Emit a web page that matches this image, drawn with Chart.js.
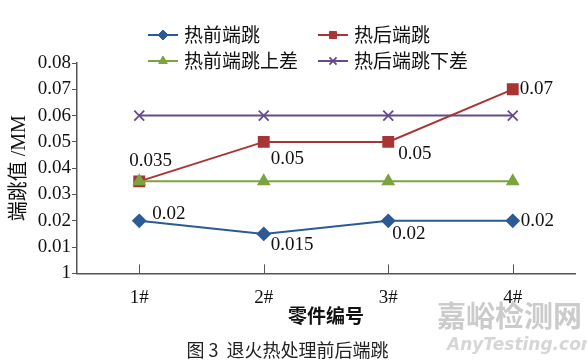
<!DOCTYPE html>
<html>
<head>
<meta charset="utf-8">
<script src="https://cdn.jsdelivr.net/npm/chart.js@4/dist/chart.umd.min.js"></script>
<style>
  html, body { margin: 0; padding: 0; background: #fff; }
  #wrap { width: 587px; height: 361px; }
</style>
</head>
<body>
<div id="wrap"><canvas id="chart"></canvas></div>
<script>
// 数据
const parts = ['1#', '2#', '3#', '4#'];
const hotBefore = [0.02, 0.015, 0.02, 0.02];
const hotAfter = [0.035, 0.05, 0.05, 0.07];
const beforeUpper = [0.035, 0.035, 0.035, 0.035];
const afterLower = [0.06, 0.06, 0.06, 0.06];
const beforeText = ['0.02', '0.015', '0.02', '0.02'];
const afterText = ['0.035', '0.05', '0.05', '0.07'];
const yTickLabels = ['1', '0.01', '0.02', '0.03', '0.04', '0.05', '0.06', '0.07', '0.08'];

const serif = "'Liberation Serif', 'Noto Sans CJK SC', serif";
const cjk = "'Noto Sans CJK SC', 'Liberation Serif', sans-serif";
const axisColor = '#555';

// 图例 (2x2)
const gridLegend = {
  id: 'gridLegend',
  afterDraw(chart) {
    const ctx = chart.ctx;
    const cells = [[148, 35], [318, 35], [148, 61], [318, 61]];
    ctx.save();
    chart.data.datasets.forEach((ds, i) => {
      const [x, y] = cells[i];
      ctx.strokeStyle = ds.borderColor;
      ctx.fillStyle = ds.backgroundColor;
      ctx.lineWidth = 2;
      ctx.beginPath();
      ctx.moveTo(x, y);
      ctx.lineTo(x + 30, y);
      ctx.stroke();
      if (Chart.helpers && Chart.helpers.drawPoint) {
        ctx.lineWidth = ds.pointBorderWidth || 1;
        Chart.helpers.drawPoint(ctx, {pointStyle: ds.pointStyle, radius: 5, rotation: 0, borderWidth: ds.pointBorderWidth || 1}, x + 15, y);
      }
      ctx.fillStyle = '#111';
      ctx.font = '19px ' + cjk;
      ctx.textAlign = 'left';
      ctx.textBaseline = 'middle';
      ctx.fillText(ds.label, x + 36, y);
    });
    ctx.restore();
  }
};

// 数值标签
const valueLabels = {
  id: 'valueLabels',
  afterDatasetsDraw(chart) {
    const ctx = chart.ctx;
    const sets = [
      {ds: 0, text: beforeText, off: [[13, -7], [7, 11], [4, 13], [8, 0]]},
      {ds: 1, text: afterText, off: [[-10, -20], [7, 17], [10, 12], [7, 0]]}
    ];
    ctx.save();
    ctx.fillStyle = '#111';
    ctx.font = '19px ' + serif;
    ctx.textAlign = 'left';
    ctx.textBaseline = 'middle';
    sets.forEach(s => {
      const meta = chart.getDatasetMeta(s.ds);
      meta.data.forEach((pt, i) => {
        ctx.fillText(s.text[i], pt.x + s.off[i][0], pt.y + s.off[i][1]);
      });
    });
    ctx.restore();
  }
};

// x轴内侧刻度 + 水印
const extras = {
  id: 'extras',
  afterDraw(chart) {
    const ctx = chart.ctx;
    const xs = chart.scales.x;
    const bottom = chart.chartArea.bottom;
    ctx.save();
    ctx.strokeStyle = axisColor;
    ctx.lineWidth = 1;
    parts.forEach((p, i) => {
      const x = Math.round(xs.getPixelForValue(i)) + 0.5;
      ctx.beginPath();
      ctx.moveTo(x, bottom);
      ctx.lineTo(x, bottom - 9);
      ctx.stroke();
    });
    ctx.fillStyle = '#cbcbcb';
    ctx.font = 'bold 29px ' + cjk;
    ctx.textAlign = 'left';
    ctx.textBaseline = 'middle';
    ctx.fillText('嘉峪检测网', 437, 316);
    ctx.fillStyle = '#d6d6d6';
    ctx.font = 'italic bold 17px ' + "'DejaVu Sans', sans-serif";
    ctx.fillText('AnyTesting.com', 447, 346);
    ctx.restore();
  }
};

new Chart(document.getElementById('chart'), {
  type: 'line',
  data: {
    labels: parts,
    datasets: [
      {
        label: '热前端跳', data: hotBefore, order: 1,
        borderColor: '#2b5a97', backgroundColor: '#2b5a97',
        pointStyle: 'rectRot', pointRadius: 6, borderWidth: 2
      },
      {
        label: '热后端跳', data: hotAfter, order: 1,
        borderColor: '#a83535', backgroundColor: '#a83535',
        pointStyle: 'rect', pointRadius: 7, borderWidth: 2
      },
      {
        label: '热前端跳上差', data: beforeUpper, order: 0,
        borderColor: '#7ba43f', backgroundColor: '#7ba43f',
        pointStyle: 'triangle', pointRadius: 6, borderWidth: 2
      },
      {
        label: '热后端跳下差', data: afterLower, order: 2,
        borderColor: '#654b8c', backgroundColor: '#654b8c',
        pointStyle: 'crossRot', pointRadius: 7, pointBorderWidth: 1.8, borderWidth: 2
      }
    ]
  },
  options: {
    responsive: true,
    maintainAspectRatio: false,
    animation: false,
    events: [],
    layout: { padding: { left: 0, top: 63, right: 12, bottom: 0 } },
    elements: { line: { tension: 0 } },
    scales: {
      x: {
        offset: true,
        grid: { display: false },
        border: { display: true, color: axisColor, width: 1.5 },
        ticks: { color: '#111', font: { family: serif, size: 19 }, padding: 5 },
        title: {
          display: true, text: '零件编号', color: '#111',
          font: { family: cjk, size: 19, weight: 'bold' },
          padding: { top: 0, bottom: 5 }
        },
        afterFit(s) { s.height = 59; }
      },
      y: {
        min: 0, max: 0.08,
        grid: { display: true, drawOnChartArea: false, drawTicks: true, tickLength: 5, color: axisColor },
        border: { display: true, color: axisColor, width: 1.5 },
        ticks: {
          stepSize: 0.01, color: '#111', padding: 1,
          font: { family: serif, size: 19 },
          callback: (v, i) => yTickLabels[i]
        },
        title: {
          display: true, text: '端跳值 /MM', color: '#111',
          font: { family: serif, size: 20 },
          padding: { top: 8, bottom: 0 }
        },
        afterFit(s) { s.width = 77; }
      }
    },
    plugins: {
      legend: { display: false },
      tooltip: { enabled: false },
      title: {
        display: true, position: 'bottom', text: '图 3  退火热处理前后端跳',
        color: '#222', font: { family: cjk, size: 18, weight: 'normal' },
        padding: { top: 7, bottom: 0 }
      }
    }
  },
  plugins: [gridLegend, valueLabels, extras]
});
</script>
</body>
</html>
